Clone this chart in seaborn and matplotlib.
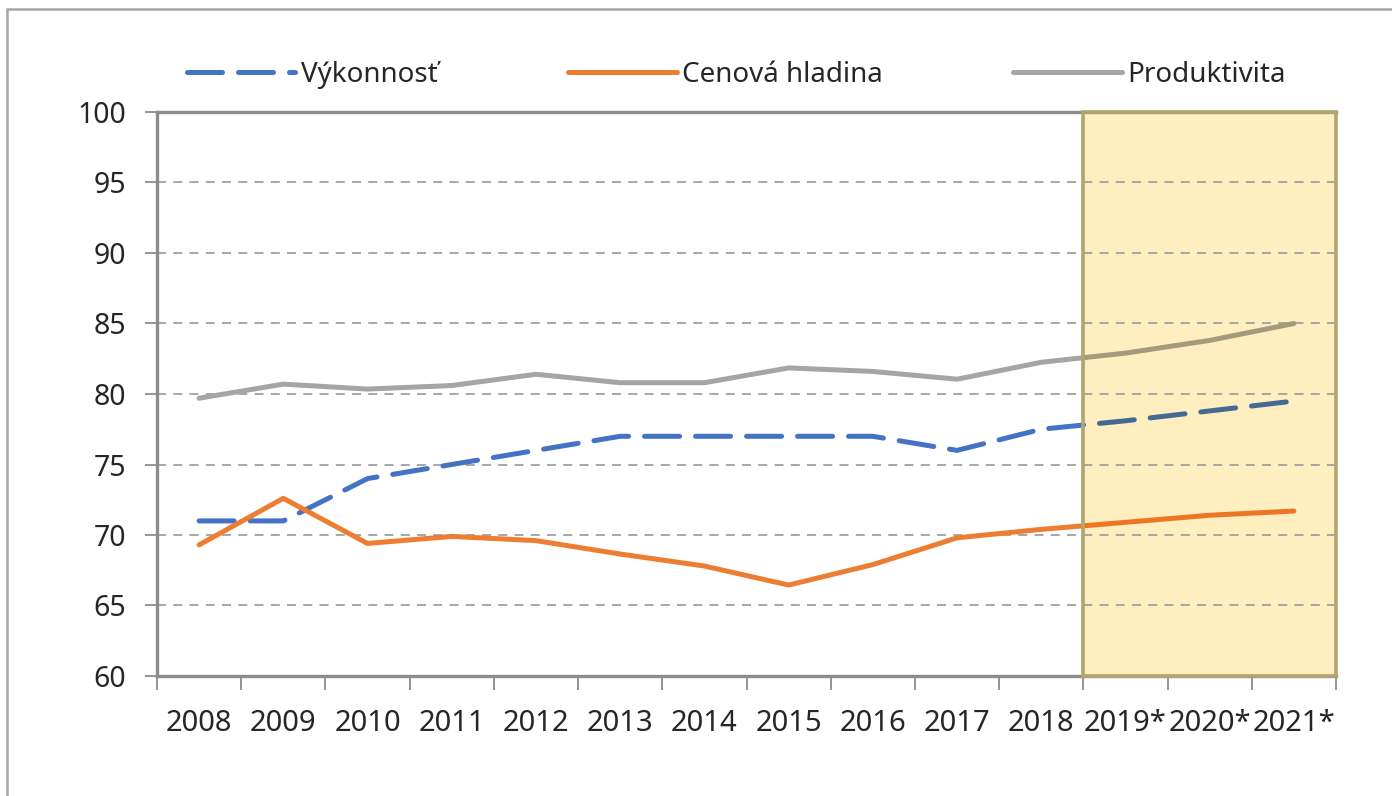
import numpy as np
import pandas as pd
import matplotlib
matplotlib.use("Agg")
import matplotlib.pyplot as plt
from matplotlib.patches import Rectangle
from matplotlib.colors import to_rgb
import seaborn as sns

# data
years = ["2008", "2009", "2010", "2011", "2012", "2013", "2014", "2015",
         "2016", "2017", "2018", "2019*", "2020*", "2021*"]
vykonnost = [71.0, 71.0, 74.0, 75.0, 76.0, 77.0, 77.0, 77.0, 77.0, 76.0, 77.5, 78.1, 78.8, 79.5]
cenova = [69.3, 72.6, 69.4, 69.9, 69.6, 68.65, 67.8, 66.45, 67.9, 69.8, 70.4, 70.9, 71.4, 71.7]
produktivita = [79.7, 80.7, 80.35, 80.6, 81.4, 80.8, 80.8, 81.85, 81.6, 81.05, 82.25, 82.9, 83.8, 85.0]
forecast_start = 11  # index of first forecast year

df = pd.DataFrame({"rok": years, "Výkonnosť": vykonnost,
                   "Cenová hladina": cenova, "Produktivita": produktivita})
colors = {"Výkonnosť": "#4472C4", "Cenová hladina": "#ED7D31", "Produktivita": "#A5A5A5"}
shade = "#FFEEC0"

sns.set_theme(style="white")
plt.rcParams['font.family'] = ['Noto Sans', 'DejaVu Sans']

fig = plt.figure(figsize=(13.92, 7.96), dpi=100)
ax = fig.add_axes([157/1392, 1-676/796, (1336-157)/1392, (676-112)/796])

spine_c = "#8C8C8C"
grid_c = "#A0A0A0"

ax.set_xlim(-0.5, len(years) - 0.5)
ax.set_ylim(60, 100)

# forecast shading (under the lines; lines inside get a "multiplied" tint)
ax.axvspan(forecast_start - 0.5, len(years) - 0.5, facecolor=shade, edgecolor="none", zorder=0.5)

# dashed grid lines
for v in [65, 70, 75, 80, 85, 90, 95]:
    ax.axhline(v, color=grid_c, lw=1.3, ls=(0, (5, 4)), zorder=1)

hist_clip = Rectangle((-0.5, 50), forecast_start, 60, transform=ax.transData)
fc_clip = Rectangle((forecast_start - 0.5, 50), len(years) - forecast_start, 60, transform=ax.transData)

for name, c in colors.items():
    tint = tuple(a * b for a, b in zip(to_rgb(c), to_rgb(shade)))
    for col, clip, lab in [(c, hist_clip, name), (tint, fc_clip, None)]:
        n0 = len(ax.get_lines())
        sns.lineplot(data=df, x="rok", y=name, ax=ax, color=col, lw=3.6, sort=False,
                     label=lab, legend=lab is not None, zorder=3)
        ln = ax.get_lines()[n0]
        ln.set_clip_path(clip)
        ln.set_solid_capstyle("round")
        if name == "Výkonnosť":
            ln.set_dashes([7, 3.2])
            ln.set_dash_capstyle("round")

# border of the forecast area
ax.add_patch(Rectangle((forecast_start - 0.5, 60), len(years) - forecast_start, 40,
                       fill=False, edgecolor="#B3A46E", lw=2.6, zorder=6, clip_on=False))

ax.set_yticks(np.arange(60, 101, 5))
ax.set_xlabel("")
ax.set_ylabel("")

# x ticks at category boundaries, labels at centres
ax.set_xticks(np.arange(-0.5, len(years), 1.0))
ax.set_xticklabels([])
ax.set_xticks(np.arange(len(years)), minor=True)
ax.set_xticklabels(years, minor=True)
ax.tick_params(axis="x", which="major", bottom=True, length=10, width=1.3, color=spine_c)
ax.tick_params(axis="x", which="minor", bottom=True, length=0, pad=24, labelsize=21,
               labelcolor="#262626")
ax.tick_params(axis="y", left=True, length=9, width=1.3, color=spine_c, pad=13,
               labelsize=20.5, labelcolor="#262626")

for s in ["left", "bottom", "top"]:
    ax.spines[s].set_color(spine_c)
    ax.spines[s].set_linewidth(2.4)
ax.spines["right"].set_visible(False)

# legend above the plot
handles, labels = ax.get_legend_handles_labels()
if ax.get_legend() is not None:
    ax.get_legend().remove()
keep = [(h, l) for h, l in zip(handles, labels) if l in colors]
fig.legend([h for h, _ in keep], [l for _, l in keep], loc="center",
           bbox_to_anchor=(0.529, 1-75/796), ncol=3, frameon=False, fontsize=20,
           handlelength=3.9, columnspacing=4.7, handletextpad=0.2, labelcolor="#262626")

# outer chart frame (left/top visible)
fig.add_artist(Rectangle((7/1392, -0.1), 2.0, 1 - 9/796 + 0.1, transform=fig.transFigure,
                         fill=False, edgecolor="#A6A6A6", lw=1.8))

fig.savefig("out.png", dpi=100)
